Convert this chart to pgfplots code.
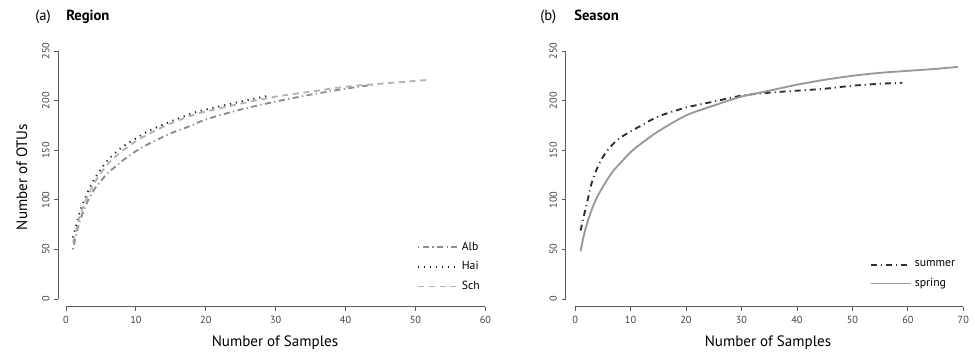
\documentclass[border=0pt]{standalone}
\usepackage{pgfplots}
\pgfplotsset{compat=1.18}
\usepackage{fontspec}
\setmainfont{PT Sans}
\definecolor{albc}{HTML}{8C8C8C}
\definecolor{haic}{HTML}{1E1E1E}
\definecolor{schc}{HTML}{B4B4B4}
\definecolor{sumc}{HTML}{2E2E2E}
\definecolor{sprc}{HTML}{999999}
\definecolor{axc}{HTML}{5A5A5A}
\begin{document}
\begin{tikzpicture}[x=1pt,y=1pt]
\useasboundingbox (0,0) rectangle (731.25,264);
\pgfplotsset{
 rstyle/.style={
  scale only axis,
  anchor=south west,
  axis lines=left,
  axis line style={draw=none},
  ymin=-8.06, ymax=255,
  height=195.7pt,
  ytick={0,50,...,250},
  tick align=outside,
  major tick length=3pt,
  tick style={color=axc, line width=0.6pt},
  ticklabel style={font=\fontsize{7.7}{9}\selectfont, color=black!75},
  yticklabel style={rotate=90, anchor=south},
  /pgf/number format/assume math mode=true,
  clip=false,
  legend style={draw=none, fill=none, font=\fontsize{8.8}{10}\selectfont, inner sep=0pt, row sep=3pt, anchor=north west, legend cell align=left},
  legend image code/.code={\draw[##1] (0pt,0pt) -- (30pt,0pt);},
 }
}
\begin{axis}[rstyle, at={(43.7pt,33.75pt)}, width=330.8pt, xmin=-1.1, xmax=62, xtick={0,10,...,60}, legend style={at={(0.8134,0.2605)}}]
\addplot[albc, line width=1.4pt, smooth, dash pattern=on 0.9pt off 2.6pt on 4.5pt off 2.6pt] coordinates {
(1,50) (1.5,66) (2,79) (3,97) (4,110) (5,119) (6,127) (7,133) (8,139) (10,149) (12,157) (15,167) (18,175) (20,181) (25,191) (30,199) (35,206) (40,212) (44,216)};
\addlegendentry{Alb}
\addplot[haic, line width=1.4pt, smooth, dash pattern=on 0.9pt off 3.6pt] coordinates {
(1,62) (1.5,75) (2,88) (3,106) (4,120) (5,131) (6,140) (7,147) (8,153) (10,162) (12,170) (15,179) (18,187) (20,191) (25,199) (29,205)};
\addlegendentry{Hai}
\addplot[schc, line width=1.4pt, smooth, dash pattern=on 4.5pt off 3.5pt] coordinates {
(1,57) (1.5,70) (2,84) (3,102) (4,116) (5,127) (6,136) (7,143) (8,149) (10,159) (12,167) (15,177) (18,185) (20,189) (25,197) (30,204) (35,209) (40,214) (45,217) (52,221)};
\addlegendentry{Sch}
\draw[axc, line width=0.75pt] (axis cs:0,-8.06) -- (axis cs:60,-8.06);
\draw[axc, line width=0.75pt] (axis cs:-1.1,0) -- (axis cs:-1.1,250);
\end{axis}
\begin{axis}[rstyle, at={(424.3pt,33.75pt)}, width=306.5pt, xmin=-1.68, xmax=72, xtick={0,10,...,70}, legend style={at={(0.7446,0.1877)}}]
\addplot[sumc, line width=1.4pt, smooth, dash pattern=on 4.5pt off 3pt on 0.8pt off 3pt] coordinates {
(1,69) (1.5,82) (2,93) (3,117) (4,132) (5,143) (6,151) (7,157) (8,162) (10,169) (12,175) (15,184) (20,193) (25,199) (30,205) (35,208) (40,210) (45,212) (50,215) (55,217) (59,218)};
\addlegendentry{summer}
\addplot[sprc, line width=1.4pt, smooth] coordinates {
(1,48) (1.5,62) (2,73) (3,90) (4,103) (5,113) (6,122) (7,130) (8,136) (10,148) (12,157) (15,169) (20,185) (25,195) (30,204) (35,210) (40,216) (45,221) (50,225) (55,228) (60,230) (65,232) (69,234)};
\addlegendentry{spring}
\draw[axc, line width=0.75pt] (axis cs:0,-8.06) -- (axis cs:70,-8.06);
\draw[axc, line width=0.75pt] (axis cs:-1.68,0) -- (axis cs:-1.68,250);
\end{axis}
\node[anchor=base west, inner sep=0pt, font=\fontsize{11}{13}\selectfont] at (26.25,248.25) {(a)};
\node[anchor=base west, inner sep=0pt, font=\fontsize{11}{13}\selectfont\bfseries] at (49.5,248.25) {Region};
\node[anchor=base west, inner sep=0pt, font=\fontsize{11}{13}\selectfont] at (405,248.25) {(b)};
\node[anchor=base west, inner sep=0pt, font=\fontsize{11}{13}\selectfont\bfseries] at (430.5,248.25) {Season};
\node[anchor=base, inner sep=0pt, font=\fontsize{11.3}{13}\selectfont] at (206.25,4) {Number of Samples};
\node[anchor=base, inner sep=0pt, font=\fontsize{11.3}{13}\selectfont] at (576,4) {Number of Samples};
\node[anchor=base, rotate=90, inner sep=0pt, font=\fontsize{11.3}{13}\selectfont] at (20.25,131.25) {Number of OTUs};
\end{tikzpicture}
\end{document}
